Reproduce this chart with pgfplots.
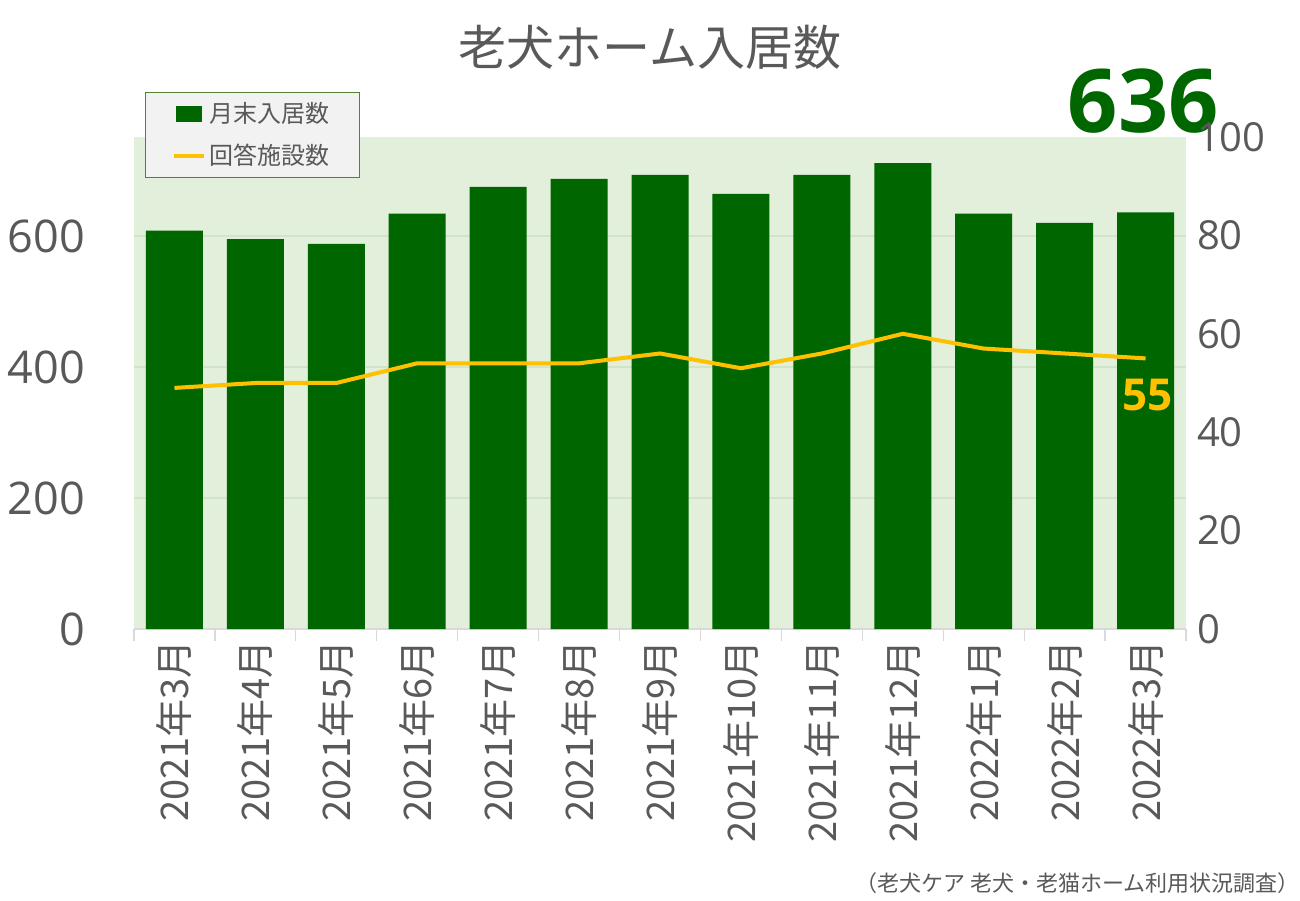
\documentclass[border=0pt]{standalone}
\usepackage{pgfplots}
\pgfplotsset{compat=1.18}
\usepackage{fontspec}
\setmainfont{Noto Sans CJK JP}
\newfontfamily\latin{Open Sans}
\definecolor{bargreen}{HTML}{006600}
\definecolor{linegold}{HTML}{FFC000}
\definecolor{bgreen}{HTML}{E2EFDA}
\definecolor{txtgray}{HTML}{595959}
\definecolor{gridc}{HTML}{D3E3C8}
\definecolor{axgray}{HTML}{D9D9D9}
\definecolor{legbg}{HTML}{F2F2F2}
\definecolor{legdraw}{HTML}{548235}
\begin{document}
\begin{tikzpicture}
\path[use as bounding box] (0,0) rectangle (650pt,450pt);
\node[text=txtgray, font=\fontsize{24}{24}\selectfont] at (325pt,426.5pt) {老犬ホーム入居数};
\node[text=txtgray, font=\fontsize{11}{11}\selectfont, anchor=east, inner sep=0pt] at (650pt,8.5pt) {（老犬ケア 老犬・老猫ホーム利用状況調査）};
\begin{axis}[
    at={(67pt,135.5pt)}, anchor=south west, scale only axis,
    width=526pt, height=246pt,
    xmin=-0.5, xmax=12.5, ymin=0, ymax=751,
    axis background/.style={fill=bgreen},
    axis x line*=bottom, axis y line*=left,
    y axis line style={draw=none},
    x axis line style={draw=axgray, line width=0.6pt},
    ytick={0,200,400,600},
    ymajorgrids, grid style={gridc, line width=0.6pt},
    major tick length=0pt,
    minor tick length=6pt, tick align=outside,
    minor tick style={draw=axgray, line width=0.6pt},
    /pgf/number format/assume math mode=true,
    yticklabel style={font=\latin\fontsize{22.5}{22.5}\selectfont, text=txtgray, xshift=-21pt},
    xtick={0,...,12},
    minor xtick={-0.5,0.5,...,12.5},
    xticklabels={2021年3月,2021年4月,2021年5月,2021年6月,2021年7月,2021年8月,2021年9月,2021年10月,2021年11月,2021年12月,2022年1月,2022年2月,2022年3月},
    xticklabel style={rotate=90, anchor=east, font=\fontsize{19}{19}\selectfont, text=txtgray, xshift=-2pt},
    legend style={at={(axis description cs:0.0105,1.0915)}, anchor=north west,
        fill=legbg, draw=legdraw, line width=0.6pt, text=txtgray,
        font=\fontsize{12}{12}\selectfont, inner xsep=13pt, inner ysep=3pt, row sep=5pt,
        /tikz/every odd column/.append style={column sep=0pt}},
    legend cell align=left,
    clip=false,
]
\addplot[ybar, bar width=28.5pt, fill=bargreen, draw=none,
    legend image code/.code={\fill[bargreen] (0pt,-4pt) rectangle (13pt,4pt);}] coordinates {
    (0,608) (1,595) (2,588) (3,634) (4,675) (5,687) (6,693)
    (7,664) (8,693) (9,711) (10,634) (11,620) (12,636)
};
\addlegendentry{月末入居数}
\addlegendimage{legend image code/.code={\draw[linegold, line width=2pt] (-1pt,0pt) -- (14pt,0pt);}}
\addlegendentry{回答施設数}
\node[text=bargreen, font=\latin\bfseries\fontsize{44}{44}\selectfont] at (axis cs:11.97,806) {636};
\end{axis}
\begin{axis}[
    at={(67pt,135.5pt)}, anchor=south west, scale only axis,
    width=526pt, height=246pt,
    xmin=-0.5, xmax=12.5, ymin=0, ymax=100,
    axis x line=none, axis y line*=right,
    y axis line style={draw=none},
    ytick={0,20,...,100},
    major tick length=0pt,
    /pgf/number format/assume math mode=true,
    yticklabel style={font=\latin\fontsize{20}{20}\selectfont, text=txtgray, xshift=2pt},
    clip=false,
]
\addplot[linegold, line width=2pt] coordinates {
    (0,49) (1,50) (2,50) (3,54) (4,54) (5,54) (6,56)
    (7,53) (8,56) (9,60) (10,57) (11,56) (12,55)
};
\node[text=linegold, font=\latin\bfseries\fontsize{22}{22}\selectfont] at (axis cs:12.03,47.6) {55};
\end{axis}
\end{tikzpicture}
\end{document}
